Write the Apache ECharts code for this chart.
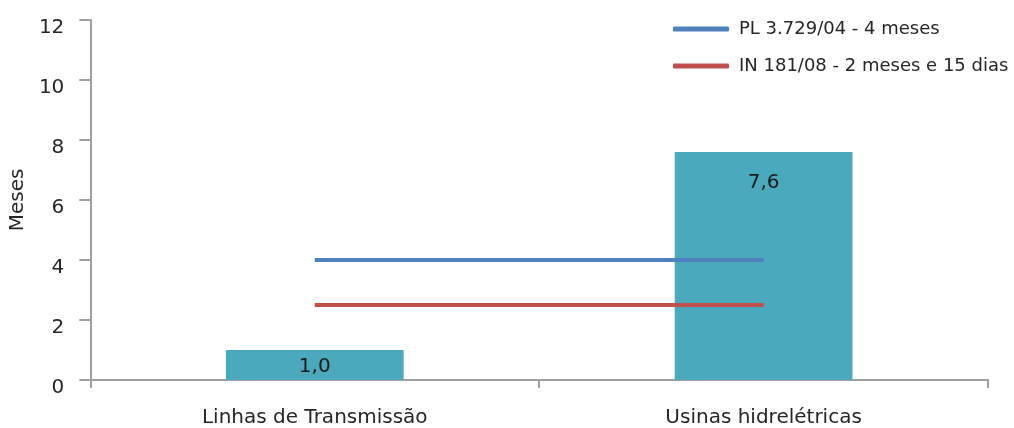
<!DOCTYPE html>
<html>
<head>
<meta charset="utf-8">
<script src="https://cdn.jsdelivr.net/npm/echarts@6/dist/echarts.min.js"></script>
<style>
html,body{margin:0;padding:0;background:#fff;}
#chart{width:1014px;height:428px;}
</style>
</head>
<body>
<div id="chart"></div>
<script>
// Prazos de licenciamento (em meses)
const categories = ['Linhas de Transmissão', 'Usinas hidrelétricas'];
const barValues = [1.0, 7.6];
const plName = 'PL 3.729/04 - 4 meses';
const plValues = [4, 4];
const inName = 'IN 181/08 - 2 meses e 15 dias';
const inValues = [2.5, 2.5];
const yTicks = { min: 0, max: 12, interval: 2 };

const font = 'DejaVu Sans';
const textColor = '#262626';
const axisColor = '#a0a0a0';

const chart = echarts.init(document.getElementById('chart'));
chart.setOption({
  animation: false,
  textStyle: { fontFamily: font, color: textColor },
  grid: { left: 88, right: 26, top: 20, bottom: 48 },
  legend: {
    orient: 'vertical',
    left: 668,
    top: 15,
    icon: 'roundRect',
    itemWidth: 56,
    itemHeight: 5,
    itemGap: 19,
    data: [plName, inName],
    textStyle: { fontFamily: font, fontSize: 18, color: textColor, padding: [0, 0, 0, 5] }
  },
  xAxis: {
    type: 'category',
    data: categories,
    boundaryGap: true,
    axisLine: { lineStyle: { color: axisColor, width: 2 } },
    axisTick: { show: true, length: 8, lineStyle: { color: axisColor, width: 2 } },
    axisLabel: { fontFamily: font, fontSize: 20, color: textColor, margin: 28 }
  },
  yAxis: {
    type: 'value',
    min: yTicks.min,
    max: yTicks.max,
    interval: yTicks.interval,
    name: 'Meses',
    nameLocation: 'middle',
    nameGap: 62,
    nameTextStyle: { fontFamily: font, fontSize: 20, color: textColor },
    axisLine: { show: true, lineStyle: { color: axisColor, width: 2 } },
    axisTick: { show: true, length: 11, lineStyle: { color: axisColor, width: 2 } },
    axisLabel: { fontFamily: font, fontSize: 20, color: textColor, margin: 26, verticalAlign: 'top', lineHeight: 16 },
    splitLine: { show: false }
  },
  series: [
    {
      type: 'bar',
      data: barValues.map((v, i) => ({
        value: v,
        label: i === 0 ? { position: 'inside', offset: [0, 2] } : { position: 'insideTop', distance: 21 }
      })),
      barWidth: '39.6%',
      itemStyle: { color: '#4BA9BE' },
      label: {
        show: true,
        fontFamily: font,
        fontSize: 20,
        color: '#1a1a1a',
        formatter: p => p.value.toFixed(1).replace('.', ',')
      },
      z: 1
    },
    {
      name: plName,
      type: 'line',
      data: plValues,
      symbol: 'none',
      lineStyle: { color: '#4F81BD', width: 4 },
      itemStyle: { color: '#4F81BD' },
      z: 3
    },
    {
      name: inName,
      type: 'line',
      data: inValues,
      symbol: 'none',
      lineStyle: { color: '#C0504D', width: 4 },
      itemStyle: { color: '#C0504D' },
      z: 3
    }
  ]
});
</script>
</body>
</html>
